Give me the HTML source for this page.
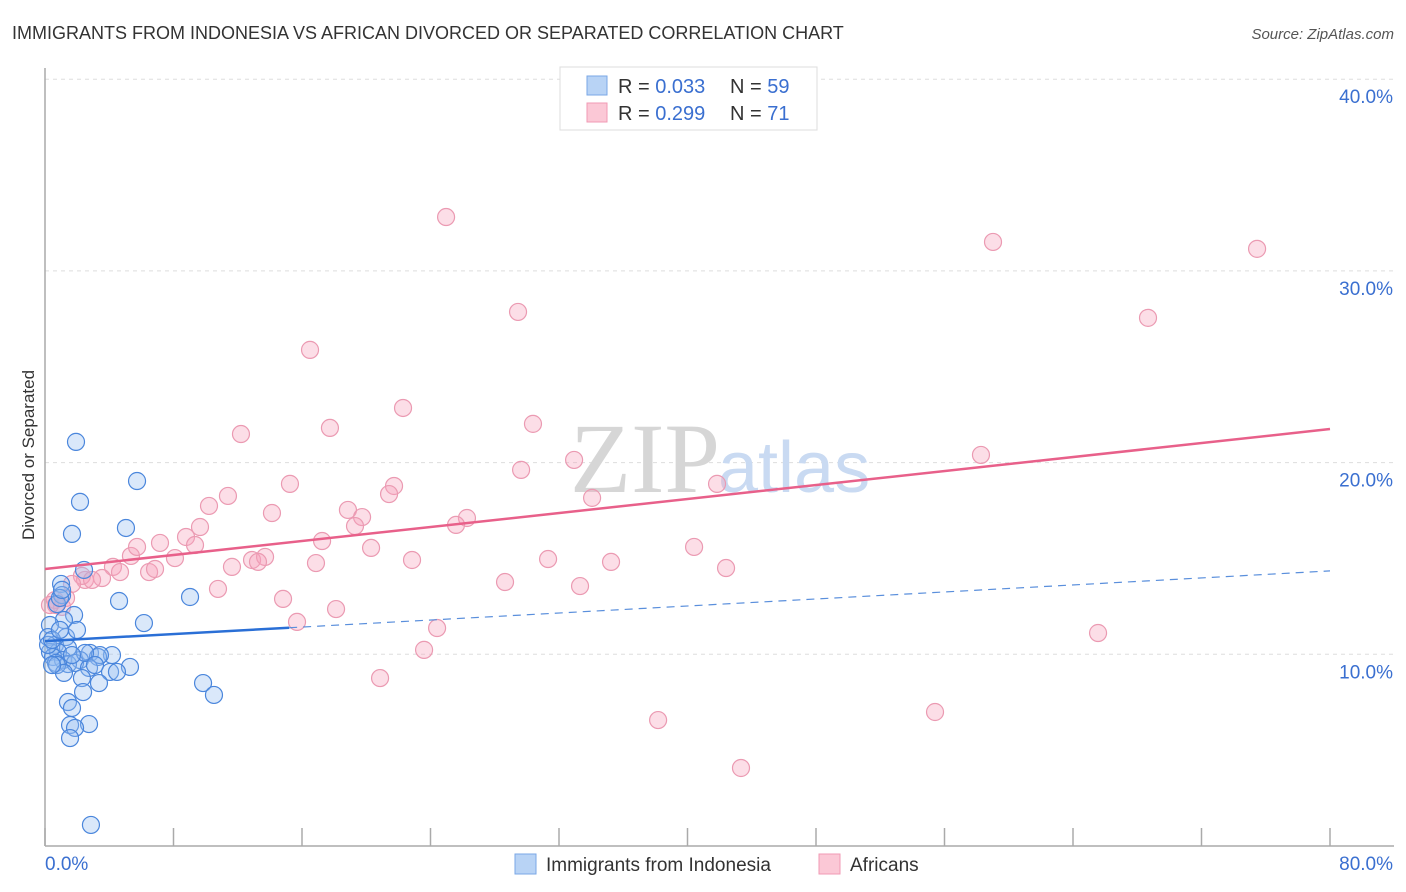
<!DOCTYPE html>
<html><head><meta charset="utf-8"><style>
body{margin:0;background:#fff;font-family:"Liberation Sans",sans-serif}
svg{display:block}
</style></head><body>
<svg id="chart" width="1406" height="892" viewBox="0 0 1406 892">
<text x="12" y="39" font-size="18" fill="#333">IMMIGRANTS FROM INDONESIA VS AFRICAN DIVORCED OR SEPARATED CORRELATION CHART</text>
<text x="1394" y="39" font-size="15" fill="#555" font-style="italic" text-anchor="end">Source: ZipAtlas.com</text>
<g id="grid"></g>
<text x="720" y="492" font-size="100" fill="#d6d6d6" font-family="Liberation Serif,serif" text-anchor="end">ZIP</text>
<text x="718" y="492" font-size="72" fill="#c9daf2" text-anchor="start">atlas</text>
<g id="axes"></g>
<g id="points"></g>
<g id="lines"></g>
<text transform="translate(34,455) rotate(-90)" font-size="17" fill="#333" text-anchor="middle">Divorced or Separated</text>
<g>
<rect x="560" y="67" width="257" height="63" fill="#fff" stroke="#ddd"/>
<rect x="587" y="76" width="20" height="19" fill="#b8d3f5" stroke="#7aa7e6"/>
<rect x="587" y="103" width="20" height="19" fill="#fbc8d6" stroke="#f09ab4"/>
<text x="618" y="93" font-size="20" fill="#333">R = <tspan fill="#3a6fd0">0.033</tspan></text>
<text x="730" y="93" font-size="20" fill="#333">N = <tspan fill="#3a6fd0">59</tspan></text>
<text x="618" y="120" font-size="20" fill="#333">R = <tspan fill="#3a6fd0"> 0.299</tspan></text>
<text x="730" y="120" font-size="20" fill="#333">N = <tspan fill="#3a6fd0"> 71</tspan></text>
</g>
<g>
<rect x="515" y="854" width="21" height="20" fill="#b8d3f5" stroke="#7aa7e6"/>
<text x="546" y="871" font-size="19" fill="#333">Immigrants from Indonesia</text>
<rect x="819" y="854" width="21" height="20" fill="#fbc8d6" stroke="#f09ab4"/>
<text x="850" y="871" font-size="19" fill="#333">Africans</text>
</g>
</svg>
<script>
const yTicks=[10,20,30,40];
const yTickLabels=["10.0%","20.0%","30.0%","40.0%"];
const xTickLabels=["0.0%","80.0%"];
const blueX=[1.93,2.18,5.73,1.68,5.04,2.43,1.00,1.06,4.61,9.03,6.16,0.75,1.81,1.18,0.31,0.19,1.31,1.99,0.62,1.43,0.31,0.81,2.80,4.17,3.30,0.50,1.12,2.18,0.68,1.43,1.87,2.74,4.05,5.29,0.75,1.18,2.30,3.36,9.84,10.52,2.37,1.43,1.68,1.56,2.74,1.87,1.56,2.86,0.19,0.44,0.93,1.06,3.42,4.48,2.49,1.68,3.11,0.44,0.93];
const blueY=[21.08,17.95,19.04,16.28,16.59,14.40,13.67,13.09,12.78,12.99,11.63,12.62,12.05,11.79,11.53,10.90,10.90,11.27,10.49,10.33,10.12,10.12,10.07,9.96,9.86,9.86,9.70,9.70,9.55,9.49,9.55,9.29,9.08,9.34,9.44,9.03,8.76,8.50,8.50,7.88,8.03,7.51,7.20,6.31,6.36,6.16,5.63,1.10,10.49,10.75,12.94,13.36,9.96,9.08,10.07,9.96,9.44,9.44,11.27];
const pinkX=[24.97,59.02,75.46,29.45,68.67,16.50,22.29,30.38,17.74,12.20,32.94,58.27,29.64,15.25,41.84,21.73,21.42,34.06,11.39,10.21,18.86,26.27,14.13,19.74,25.59,19.30,9.65,17.25,8.78,7.16,9.34,20.30,40.41,5.35,8.09,5.73,31.32,22.85,35.24,12.89,13.70,13.26,16.87,4.23,4.67,6.48,6.85,42.40,11.64,3.55,2.49,28.64,2.30,1.68,2.93,33.31,10.77,0.62,1.31,1.06,14.82,0.68,0.31,18.12,15.69,24.41,65.56,23.60,20.86,38.17,55.41,43.33];
const pinkY=[32.81,31.51,31.15,27.86,27.55,25.88,22.85,22.02,21.81,21.49,20.14,20.40,19.62,18.89,18.89,18.78,18.36,18.16,18.26,17.74,17.53,17.11,17.37,17.16,16.75,16.69,16.64,15.91,16.12,15.81,15.70,15.55,15.60,15.13,15.02,15.60,14.97,14.92,14.82,14.92,15.08,14.82,14.76,14.56,14.29,14.29,14.45,14.50,14.56,13.98,13.88,13.77,14.09,13.67,13.88,13.56,13.41,12.83,12.94,12.47,12.89,12.57,12.57,12.36,11.69,11.37,11.11,10.23,8.76,6.57,6.99,4.07];
const blueTrend=[10.69,14.35];
const pinkTrend=[14.45,21.75];
const NS='http://www.w3.org/2000/svg';
const X0=45,X1=1330,Y0=846,PXPER=19.17;
const sx=v=>X0+v/80*(X1-X0);
const sy=v=>Y0-v*PXPER;
function mk(tag,attrs,parent){const e=document.createElementNS(NS,tag);for(const k in attrs)e.setAttribute(k,attrs[k]);parent.appendChild(e);return e;}
const grid=document.getElementById('grid'),axes=document.getElementById('axes'),pts=document.getElementById('points'),lines=document.getElementById('lines');
yTicks.forEach((t,i)=>{
 const l=mk('line',{x1:X0,x2:1394,y1:sy(t),y2:sy(t),stroke:'#ddd','stroke-dasharray':'4,4'},grid);
 
 
 const tx=mk('text',{x:1393,y:sy(t)+24,'font-size':19,fill:'#3a6fd0','text-anchor':'end'},grid);
 tx.textContent=yTickLabels[i];
 
 
});
const ax=mk('line',{x1:X0,x2:X0,y1:68,y2:Y0,stroke:'#aaa','stroke-width':1.5},axes);


const bx=mk('line',{x1:X0,x2:1394,y1:Y0,y2:Y0,stroke:'#aaa','stroke-width':1.5},axes);


for(let i=0;i<=10;i++){
 const t=mk('line',{x1:sx(i*8),x2:sx(i*8),y1:828,y2:Y0,stroke:'#aaa','stroke-width':1.5},axes);
 
 
}
[[0,'start',45],[1,'end',1393]].forEach(([i,a,x])=>{
 const t=mk('text',{x:x,y:870,'font-size':19,fill:'#3a6fd0','text-anchor':a},axes);
 t.textContent=xTickLabels[i];
 
 
});
pinkX.forEach((x,i)=>{
 const c=mk('circle',{cx:sx(x),cy:sy(pinkY[i]),r:8.5,fill:'rgba(246,160,185,0.35)',stroke:'#eb9ab2','stroke-width':1.2},pts);
 
 
});
blueX.forEach((x,i)=>{
 const c=mk('circle',{cx:sx(x),cy:sy(blueY[i]),r:8.5,fill:'rgba(150,190,240,0.35)',stroke:'#4a86dc','stroke-width':1.2},pts);
 
 
});
const pl=mk('line',{x1:sx(0),y1:sy(pinkTrend[0]),x2:sx(80),y2:sy(pinkTrend[1]),stroke:'#e8608a','stroke-width':2.5},lines);


const bAt=v=>blueTrend[0]+(blueTrend[1]-blueTrend[0])*v/80;
const bs=mk('line',{x1:sx(0),y1:sy(bAt(0)),x2:sx(15.2),y2:sy(bAt(15.2)),stroke:'#2a6fd6','stroke-width':2.5},lines);


const bd=mk('line',{x1:sx(15.2),y1:sy(bAt(15.2)),x2:sx(80),y2:sy(bAt(80)),stroke:'#5a8fdc','stroke-width':1.2,'stroke-dasharray':'8,6'},lines);


</script>
</body></html>
